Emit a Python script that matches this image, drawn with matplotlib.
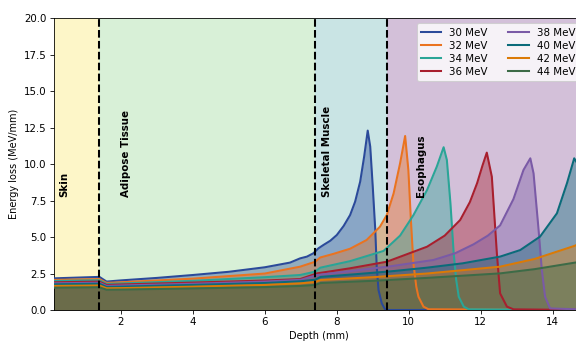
import matplotlib
matplotlib.use("Agg")
import matplotlib.pyplot as plt

# ---------------- data ----------------
labels = ["30 MeV", "32 MeV", "34 MeV", "36 MeV", "38 MeV", "40 MeV", "42 MeV", "44 MeV"]
colors = ["#2b4a9a", "#ea7320", "#2aa597", "#a81f2e", "#7a5aa6", "#0b6b7a", "#db7a06", "#3d6b47"]

d30 = [0.125, 1.4, 1.6, 2.0, 3.0, 4.0, 5.0, 6.0, 6.7, 6.98, 7.17, 7.35, 7.49, 7.63, 7.82, 8.0, 8.19, 8.37, 8.51, 8.65, 8.76, 8.86, 8.93, 9.0, 9.07, 9.11, 9.16, 9.25, 9.34, 9.4, 15.2]
e30 = [2.17, 2.27, 1.95, 2.03, 2.2, 2.4, 2.62, 2.93, 3.25, 3.54, 3.66, 3.89, 4.23, 4.46, 4.75, 5.14, 5.76, 6.51, 7.43, 8.8, 10.51, 12.3, 11.2, 8.46, 5.49, 2.97, 1.37, 0.46, 0.05, 0.0, 0.0]

d32 = [0.125, 1.4, 1.6, 2.0, 4.0, 6.0, 6.98, 7.4, 7.54, 7.91, 8.37, 8.83, 9.2, 9.39, 9.58, 9.76, 9.9, 9.99, 10.06, 10.13, 10.21, 10.27, 10.41, 10.55, 15.2]
e32 = [2.06, 2.12, 1.86, 1.9, 2.15, 2.5, 2.97, 3.31, 3.6, 3.85, 4.2, 4.8, 5.71, 6.51, 8.0, 10.06, 11.93, 9.6, 6.17, 3.2, 1.6, 0.91, 0.23, 0.05, 0.0]

d34 = [0.125, 1.4, 1.6, 2.0, 4.0, 6.0, 6.98, 7.4, 7.54, 8.37, 9.3, 9.76, 10.13, 10.51, 10.78, 10.97, 11.06, 11.16, 11.25, 11.32, 11.39, 11.53, 11.67, 15.2]
e34 = [1.99, 2.04, 1.79, 1.82, 2.0, 2.25, 2.4, 2.63, 2.9, 3.35, 4.05, 5.1, 6.5, 8.23, 9.83, 11.16, 10.29, 7.31, 3.89, 2.06, 0.91, 0.23, 0.05, 0.0]

d36 = [0.125, 1.4, 1.6, 2.0, 4.0, 6.0, 6.98, 7.45, 8.37, 9.39, 10.51, 11.0, 11.43, 11.7, 11.9, 12.05, 12.17, 12.31, 12.45, 12.54, 12.73, 12.91, 15.2]
e36 = [1.9, 1.95, 1.72, 1.75, 1.88, 2.02, 2.12, 2.51, 2.86, 3.31, 4.34, 5.1, 6.17, 7.4, 8.69, 9.9, 10.79, 9.14, 3.89, 1.14, 0.23, 0.05, 0.0]

d38 = [0.125, 1.4, 1.6, 2.0, 4.0, 6.0, 7.0, 7.45, 8.5, 9.5, 10.69, 11.3, 11.8, 12.2, 12.54, 12.91, 13.19, 13.38, 13.47, 13.61, 13.70, 13.79, 13.93, 15.2]
e38 = [1.83, 1.87, 1.65, 1.68, 1.8, 1.95, 2.07, 2.4, 2.7, 3.0, 3.43, 3.9, 4.5, 5.1, 5.8, 7.6, 9.6, 10.4, 9.37, 5.49, 2.74, 0.91, 0.11, 0.0]

d40 = [0.125, 1.4, 1.6, 2.0, 4.0, 6.0, 7.0, 7.4, 7.55, 8.5, 9.5, 10.5, 11.5, 12.54, 13.1, 13.65, 14.12, 14.4, 14.6, 14.7, 14.8, 14.9, 15.0, 15.2]
e40 = [1.76, 1.8, 1.58, 1.6, 1.72, 1.85, 1.97, 2.08, 2.27, 2.45, 2.65, 2.9, 3.2, 3.66, 4.11, 5.03, 6.63, 8.7, 10.4, 10.0, 8.0, 4.0, 1.0, 0.0]

d42 = [0.125, 1.4, 1.6, 2.0, 4.0, 6.0, 7.0, 7.4, 7.55, 9.0, 10.5, 12.54, 13.5, 14.6, 15.2]
e42 = [1.65, 1.68, 1.49, 1.5, 1.6, 1.72, 1.83, 1.92, 2.06, 2.25, 2.5, 2.97, 3.5, 4.39, 5.0]

d44 = [0.125, 1.4, 1.6, 2.0, 4.0, 6.0, 7.0, 7.4, 7.55, 9.0, 10.5, 12.54, 13.5, 14.6, 15.2]
e44 = [1.53, 1.56, 1.39, 1.4, 1.48, 1.57, 1.65, 1.72, 1.85, 2.0, 2.2, 2.51, 2.8, 3.24, 3.45]

depths = [d30, d32, d34, d36, d38, d40, d42, d44]
losses = [e30, e32, e34, e36, e38, e40, e42, e44]

tissues = ["Skin", "Adipose Tissue", "Skeletal Muscle", "Esophagus"]
tissue_bounds = [0.125, 1.4, 7.4, 9.4, 15.2]
tissue_colors = ["#fdf6c8", "#d8f0d7", "#c9e4e4", "#d3c0d9"]
tissue_label_x = [0.42, 2.15, 7.74, 10.35]
boundaries = [1.4, 7.4, 9.4]

# ---------------- figure ----------------
DPI = 74
fig = plt.figure(figsize=(576 / DPI, 343 / DPI), dpi=DPI)
ax = fig.add_axes([53.5 / 576, 33 / 343, (585 - 53.5) / 576, (310 - 18.3) / 343])

for i in range(len(tissues)):
    ax.axvspan(tissue_bounds[i], tissue_bounds[i + 1], color=tissue_colors[i], lw=0, zorder=0)
    ax.text(tissue_label_x[i], 7.75, tissues[i], rotation=90, ha="center", va="bottom",
            fontsize=10, fontweight="bold", zorder=5)

for d, e, c, lab in zip(depths, losses, colors, labels):
    ax.fill_between(d, e, 0, color=c, alpha=0.4, lw=0, zorder=2)
    ax.plot(d, e, color=c, lw=2, label=lab, zorder=3)

for b in boundaries:
    ax.axvline(b, color="black", ls="--", lw=2, zorder=4)

ax.set_xlim(0.125, 14.9)
ax.set_ylim(0, 20)
ax.set_xticks([2, 4, 6, 8, 10, 12, 14])
ax.set_yticks([0, 2.5, 5, 7.5, 10, 12.5, 15, 17.5, 20])
ax.set_yticklabels(["0.0", "2.5", "5.0", "7.5", "10.0", "12.5", "15.0", "17.5", "20.0"])
ax.tick_params(labelsize=10)
ax.set_xlabel("Depth (mm)", fontsize=9.5)
ax.set_ylabel("Energy loss (MeV/mm)", fontsize=9.5)
ax.legend(ncol=2, loc="upper right", fontsize=10, labelspacing=0.3)

fig.savefig("out.png", dpi=DPI)
